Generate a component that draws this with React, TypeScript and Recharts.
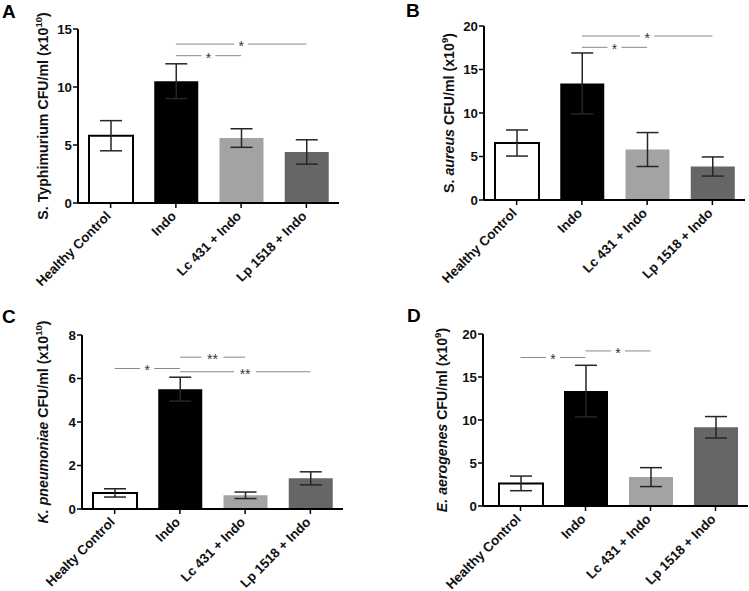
import React from "react";
import { BarChart, Bar, XAxis, YAxis, ErrorBar, Cell, ReferenceLine } from "recharts";

// group names (panel C has the original typo)
const groups = ["Healthy Control", "Indo", "Lc 431 + Indo", "Lp 1518 + Indo"];
const groupsC = ["Healty Control", "Indo", "Lc 431 + Indo", "Lp 1518 + Indo"];

// A - S. Typhimurium (x10^10)
const typhiMean = [5.8, 10.5, 5.6, 4.4];
const typhiSem = [1.3, 1.5, 0.8, 1.05];
const typhiTicks = [0, 5, 10, 15];

// B - S. aureus (x10^9)
const aureusMean = [6.55, 13.4, 5.8, 3.85];
const aureusSem = [1.5, 3.5, 1.95, 1.1];
const aureusTicks = [0, 5, 10, 15, 20];

// C - K. pneumoniae (x10^10)
const pneuMean = [0.74, 5.51, 0.63, 1.41];
const pneuSem = [0.19, 0.55, 0.15, 0.3];
const pneuTicks = [0, 2, 4, 6, 8];

// D - E. aerogenes (x10^9)
const aeroMean = [2.63, 13.36, 3.36, 9.15];
const aeroSem = [0.85, 3.0, 1.1, 1.25];
const aeroTicks = [0, 5, 10, 15, 20];

// significance brackets: from / to group, height, mark
const typhiSig = [
  { from: "Indo", to: "Lp 1518 + Indo", y: 13.7, mark: "*" },
  { from: "Indo", to: "Lc 431 + Indo", y: 12.7, mark: "*" },
];
const aureusSig = [
  { from: "Indo", to: "Lp 1518 + Indo", y: 18.85, mark: "*" },
  { from: "Indo", to: "Lc 431 + Indo", y: 17.55, mark: "*" },
];
const pneuSig = [
  { from: "Healty Control", to: "Indo", y: 6.46, mark: "*" },
  { from: "Indo", to: "Lc 431 + Indo", y: 6.98, mark: "**" },
  { from: "Indo", to: "Lp 1518 + Indo", y: 6.31, mark: "**" },
];
const aeroSig = [
  { from: "Healthy Control", to: "Indo", y: 17.27, mark: "*" },
  { from: "Indo", to: "Lc 431 + Indo", y: 18.03, mark: "*" },
];

const barColors = ["#ffffff", "#000000", "#a3a3a3", "#666666"];
const FONT = "'Liberation Sans', Arial, sans-serif";

const RotTick = ({ x, y, payload }: any) => (
  <g transform={`translate(${x + 1},${y + 7})`}>
    <text
      textAnchor="end"
      transform="rotate(-45)"
      fontSize={13.3}
      fontWeight="bold"
      fontFamily={FONT}
      fill="#111"
    >
      {payload.value}
    </text>
  </g>
);

const sigShape = (mark: string) => (props: any) => {
  const { x1, y1, x2 } = props;
  const mid = (x1 + x2) / 2;
  const gap = mark.length > 1 ? 11 : 7;
  return (
    <g>
      <line x1={x1} y1={y1} x2={mid - gap} y2={y1} stroke="#888" strokeWidth={1} />
      <line x1={mid + gap} y1={y1} x2={x2} y2={y1} stroke="#888" strokeWidth={1} />
      <text x={mid} y={y1 + 7} textAnchor="middle" fontSize={14} fontFamily={FONT} fill="#333">
        {mark}
      </text>
    </g>
  );
};

type Part = { t: string; i?: boolean };

const yLabel = (parts: Part[], sup: string, dx: number) => (props: any) => {
  const vb = props.viewBox;
  const cx = vb.x + vb.width - dx;
  const cy = vb.y + vb.height / 2;
  return (
    <text
      transform={`translate(${cx},${cy}) rotate(-90)`}
      textAnchor="middle"
      fontSize={14.2}
      fontWeight="bold"
      fontFamily={FONT}
      fill="#111"
    >
      {parts.map((p, k) => (
        <tspan key={k} fontStyle={p.i ? "italic" : "normal"}>
          {p.t}
        </tspan>
      ))}
      <tspan fontSize={9.5} dy={-6}>
        {sup}
      </tspan>
      <tspan dy={6}>)</tspan>
    </text>
  );
};

type PanelProps = {
  left: number;
  top: number;
  width: number;
  height: number;
  margin: { top: number; right: number; bottom: number; left: number };
  cats: string[];
  mean: number[];
  sem: number[];
  ticks: number[];
  sig: { from: string; to: string; y: number; mark: string }[];
  label: Part[];
  sup: string;
  labelDx: number;
  padLeft?: number;
};

function Panel(p: PanelProps) {
  const data = p.cats.map((c, i) => ({ name: c, value: p.mean[i], err: p.sem[i] }));
  const max = p.ticks[p.ticks.length - 1];
  return (
    <div style={{ position: "absolute", left: p.left, top: p.top }}>
      <BarChart width={p.width} height={p.height} data={data} margin={p.margin}>
        <XAxis
          dataKey="name"
          interval={0}
          height={80}
          tick={<RotTick />}
          tickSize={5}
          tickLine={{ stroke: "#000", strokeWidth: 1.5 }}
          axisLine={{ stroke: "#000", strokeWidth: 2 }}
          padding={{ left: p.padLeft || 0, right: 0 }}
        />
        <YAxis
          width={40}
          domain={[0, max]}
          ticks={p.ticks}
          interval={0}
          tickSize={5}
          tickMargin={1}
          tick={{ fontSize: 13.3, fontWeight: "bold", fill: "#111", fontFamily: FONT }}
          tickLine={{ stroke: "#000", strokeWidth: 1.5 }}
          axisLine={{ stroke: "#000", strokeWidth: 2 }}
          label={{ content: yLabel(p.label, p.sup, p.labelDx) }}
        />
        <Bar dataKey="value" barSize={44} isAnimationActive={false}>
          {data.map((d, i) => (
            <Cell
              key={d.name}
              fill={barColors[i]}
              stroke={i === 0 ? "#000" : "none"}
              strokeWidth={i === 0 ? 2 : 0}
            />
          ))}
          <ErrorBar dataKey="err" width={11} stroke="#262626" strokeWidth={1.5} direction="y" />
        </Bar>
        {p.sig.map((s, k) => (
          <ReferenceLine
            key={k}
            segment={[
              { x: s.from, y: s.y },
              { x: s.to, y: s.y },
            ]}
            shape={sigShape(s.mark)}
          />
        ))}
      </BarChart>
    </div>
  );
}

const Letter = ({ x, y, ch }: { x: number; y: number; ch: string }) => (
  <svg style={{ position: "absolute", left: 0, top: 0 }} width={749} height={591}>
    <text x={x} y={y} fontSize={19} fontWeight="bold" fontFamily={FONT} fill="#000">
      {ch}
    </text>
  </svg>
);

export default function App() {
  return (
    <div
      style={{
        position: "absolute",
        left: 0,
        top: 0,
        width: 749,
        height: 591,
        background: "#fff",
        overflow: "hidden",
      }}
    >
      <Panel
        left={0}
        top={0}
        width={370}
        height={295}
        margin={{ top: 29, right: 31, bottom: 12, left: 38 }}
        cats={groups}
        mean={typhiMean}
        sem={typhiSem}
        ticks={typhiTicks}
        sig={typhiSig}
        label={[{ t: "S. Typhimurium CFU/ml (x10" }]}
        sup="10"
        labelDx={30}
      />
      <Panel
        left={370}
        top={0}
        width={379}
        height={295}
        margin={{ top: 26, right: 4, bottom: 15, left: 74 }}
        cats={groups}
        mean={aureusMean}
        sem={aureusSem}
        ticks={aureusTicks}
        sig={aureusSig}
        label={[{ t: "S. " }, { t: "aureus", i: true }, { t: " CFU/ml (x10" }]}
        sup="9"
        labelDx={30}
      />
      <Panel
        left={0}
        top={295}
        width={370}
        height={296}
        margin={{ top: 40, right: 27, bottom: 2, left: 42 }}
        cats={groupsC}
        mean={pneuMean}
        sem={pneuSem}
        ticks={pneuTicks}
        sig={pneuSig}
        label={[{ t: "K. pneumoniae", i: true }, { t: " CFU/ml (x10" }]}
        sup="10"
        labelDx={34}
      />
      <Panel
        left={370}
        top={295}
        width={379}
        height={296}
        margin={{ top: 39, right: 1, bottom: 5, left: 73 }}
        cats={groups}
        mean={aeroMean}
        sem={aeroSem}
        ticks={aeroTicks}
        sig={aeroSig}
        label={[{ t: "E. aerogenes", i: true }, { t: " CFU/ml (x10" }]}
        sup="9"
        labelDx={36}
        padLeft={5}
      />
      <Letter x={2} y={18} ch="A" />
      <Letter x={406} y={17} ch="B" />
      <Letter x={2} y={323} ch="C" />
      <Letter x={407} y={322} ch="D" />
    </div>
  );
}
